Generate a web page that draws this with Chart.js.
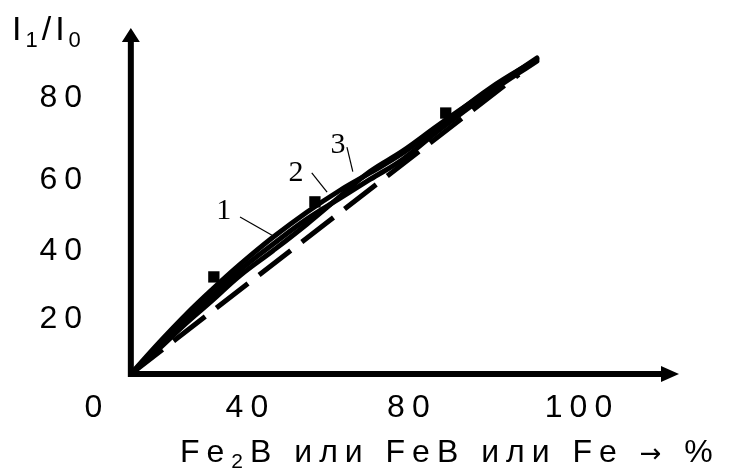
<!DOCTYPE html>
<html>
<head>
<meta charset="utf-8">
<script src="https://cdn.jsdelivr.net/npm/chart.js@4.4.1/dist/chart.umd.min.js"></script>
<style>
  html, body { margin: 0; padding: 0; background: #fff; }
</style>
</head>
<body>
<canvas id="chart" width="730" height="470"></canvas>
<script>
// values, in the figure's own axis units
const curveX = [0, 6.4, 12.4, 18, 24.2, 31.5, 39, 46.3, 53, 60.3, 68.5, 79.6, 90];
const curve1Y = [0, 9.3, 17.5, 24.5, 31.8, 39.7, 47.0, 53.3, 58.4, 64.2, 72.0, 83, 91.4];
const curve2Y = [0, 8.3, 16.1, 22.8, 30.2, 37.7, 45.0, 51.0, 56.5, 62.4, 71.0, 81.8, 90.9];
const curve3Y = [0, 7.5, 14.9, 21.3, 28.6, 35.8, 43.5, 51.5, 58.8, 64.8, 72.6, 82.6, 91.8];
const dashX = [0, 86];
const dashY = [0, 87];
const markerX = [18.4, 40.8, 69.8];
const markerY = [28.2, 50.0, 75.8];

const xTickValues = [-7.5, 26.5, 62.3, 100];
const xTickLabels = ['0', '40', '80', '100'];
const yTickValues = [16, 35.7, 56.3, 80];
const yTickLabels = ['20', '40', '60', '80'];
const xArrowEnd = 121.5;
const yArrowEnd = 100.5;

// curve numbers and their leader lines
const curveNames = ['1', '2', '3'];
const nameX = [20.6, 36.6, 45.9];
const nameY = [47.3, 58.4, 66.5];
const leadFromX = [24.2, 40.1, 47.9];
const leadFromY = [45.6, 58.4, 65.9];
const leadToX = [31.3, 43.5, 49.2];
const leadToY = [40.3, 52.8, 58.8];

const toPoints = (xs, ys) => xs.map((x, i) => ({ x, y: ys[i] }));

const SANS = '"Liberation Sans", Arial, sans-serif';

// kind: 0 normal, 1 subscript, 2 arrow symbol
function drawParts(ctx, parts, x, baseline, size) {
  parts.forEach(([t, kind]) => {
    if (kind === 1) ctx.font = Math.round(size * 0.65) + 'px ' + SANS;
    else if (kind === 2) ctx.font = Math.round(size * 0.8) + 'px "DejaVu Sans", sans-serif';
    else ctx.font = size + 'px ' + SANS;
    ctx.fillText(t, x, kind === 1 ? baseline + size * 0.2 : baseline);
    x += ctx.measureText(t).width;
  });
}

const sketch = {
  id: 'sketch',
  beforeDraw(chart) {
    chart.ctx.letterSpacing = '7px';
  },
  beforeDatasetsDraw(chart) {
    const { ctx, scales: { x, y } } = chart;
    const x0 = x.getPixelForValue(0);
    const y0 = y.getPixelForValue(0);
    const xe = x.getPixelForValue(xArrowEnd);
    const ye = y.getPixelForValue(yArrowEnd);
    ctx.save();
    ctx.strokeStyle = '#000';
    ctx.fillStyle = '#000';
    ctx.lineWidth = 6;
    ctx.beginPath();
    ctx.moveTo(x0, y0 + 3);
    ctx.lineTo(x0, ye + 12);
    ctx.moveTo(x0 - 3, y0);
    ctx.lineTo(xe - 16, y0);
    ctx.stroke();
    // arrow heads
    ctx.beginPath();
    ctx.moveTo(x0, ye);
    ctx.lineTo(x0 + 9, ye + 14);
    ctx.lineTo(x0 - 9, ye + 14);
    ctx.closePath();
    ctx.moveTo(xe, y0);
    ctx.lineTo(xe - 18, y0 - 8);
    ctx.lineTo(xe - 18, y0 + 8);
    ctx.closePath();
    ctx.fill();
    ctx.restore();
  },
  afterDatasetsDraw(chart) {
    const { ctx, scales: { x, y } } = chart;
    ctx.save();
    ctx.fillStyle = '#000';
    ctx.strokeStyle = '#000';
    ctx.lineWidth = 1.2;
    ctx.letterSpacing = '0px';
    ctx.font = '30px "Liberation Serif", "Times New Roman", serif';
    ctx.textAlign = 'center';
    ctx.textBaseline = 'middle';
    curveNames.forEach((n, i) => {
      ctx.fillText(n, x.getPixelForValue(nameX[i]), y.getPixelForValue(nameY[i]));
      ctx.beginPath();
      ctx.moveTo(x.getPixelForValue(leadFromX[i]), y.getPixelForValue(leadFromY[i]));
      ctx.lineTo(x.getPixelForValue(leadToX[i]), y.getPixelForValue(leadToY[i]));
      ctx.stroke();
    });

    // axis titles
    ctx.textAlign = 'left';
    ctx.textBaseline = 'alphabetic';
    ctx.letterSpacing = '4px';
    drawParts(ctx, [['I', 0], ['1', 1], ['/', 0], ['I', 0], ['0', 1]], 12, 40, 34);
    ctx.letterSpacing = '7px';
    drawParts(ctx, [['Fe', 0], ['2', 1], ['B или FeB или Fe ', 0], ['→', 2], [' %', 0]], 180, 462, 32);
    ctx.restore();
  }
};

const solid = (data) => ({
  type: 'line',
  data,
  borderColor: '#000',
  borderWidth: 5,
  pointRadius: 0,
  tension: 0.4,
  borderCapStyle: 'round',
  fill: false,
  clip: false
});

new Chart(document.getElementById('chart'), {
  type: 'scatter',
  data: {
    datasets: [
      {
        type: 'line',
        data: toPoints(dashX, dashY),
        borderColor: '#000',
        borderWidth: 5,
        borderDash: [40, 14],
        pointRadius: 0,
        fill: false,
        clip: false
      },
      solid(toPoints(curveX, curve3Y)),
      solid(toPoints(curveX, curve2Y)),
      solid(toPoints(curveX, curve1Y)),
      {
        data: toPoints(markerX, markerY),
        pointStyle: 'rect',
        pointRadius: 8,
        backgroundColor: '#000',
        borderWidth: 0,
        clip: false
      }
    ]
  },
  options: {
    responsive: false,
    animation: false,
    devicePixelRatio: 1,
    layout: { padding: { top: 28, right: 51, bottom: 0, left: 0 } },
    plugins: { legend: { display: false }, tooltip: { enabled: false } },
    scales: {
      x: {
        type: 'linear',
        min: -7.5,
        max: xArrowEnd,
        grid: { display: false, drawTicks: false },
        border: { display: false },
        afterFit: (s) => { s.height = 96; },
        afterBuildTicks: (s) => { s.ticks = xTickValues.map(v => ({ value: v })); },
        ticks: {
          autoSkip: false,
          maxRotation: 0,
          padding: 15,
          color: '#000',
          font: { family: SANS, size: 32 },
          callback: (v, i) => xTickLabels[i]
        }
      },
      y: {
        type: 'linear',
        min: 0,
        max: yArrowEnd,
        grid: { display: false, drawTicks: false },
        border: { display: false },
        afterFit: (s) => { s.width = 97; },
        afterBuildTicks: (s) => { s.ticks = yTickValues.map(v => ({ value: v })); },
        ticks: {
          autoSkip: false,
          padding: 8,
          color: '#000',
          font: { family: SANS, size: 32 },
          callback: (v, i) => yTickLabels[i]
        }
      }
    }
  },
  plugins: [sketch]
});
</script>
</body>
</html>
